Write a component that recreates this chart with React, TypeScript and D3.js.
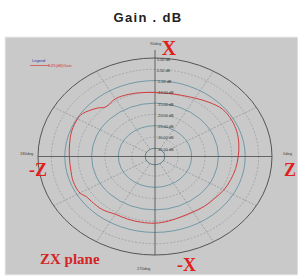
import React from 'react';
import * as d3 from 'd3';

// pattern: angle in degrees, gain in dB
const angles = [0, 10, 20, 30, 40, 50, 60, 70, 80, 90, 100, 110, 120, 130, 135, 145, 150, 160, 170, 180,
  190, 200, 210, 215, 220, 230, 240, 250, 260, 270, 280, 290, 300, 310, 320, 330, 340, 350];
const gains = [-7.6, -6.9, -6.2, -5.8, -5.9, -7.3, -8.8, -9.8, -10.3, -10.3, -9.9, -9.4, -9.1, -10.0, -8.3, -5.6, -5.3, -5.6, -6.3, -6.7,
  -6.7, -6.2, -6.3, -7.5, -7.7, -8.0, -9.1, -9.1, -9.1, -9.1, -9.6, -10.2, -10.3, -9.9, -9.7, -9.0, -8.6, -8.1];

const ringDb = [5, 0, -5, -10, -15, -20, -25, -30, -35];
const ringLabels = ['5.00 dB', '0.00 dB', '-5.00 dB', '-10.00 dB', '-15.00 dB', '-20.00 dB', '-25.00 dB', '-30.00 dB', '-35.00 dB'];
const spokeAngles = [30, 60, 120, 150, 210, 240, 300, 330];

const W = 298, H = 280;
const cx = 155, cy = 156.5, rx = 117, ry = 98.5;

export default function App() {
  const r = d3.scaleLinear().domain([-35, 5]).range([0.084, 1]);
  const px = (a: number, f: number) => cx + rx * f * Math.cos((a * Math.PI) / 180);
  const py = (a: number, f: number) => cy - ry * f * Math.sin((a * Math.PI) / 180);

  const pts: [number, number][] = angles.map((a, i) => [px(a, r(gains[i])), py(a, r(gains[i]))]);
  const trace = d3.line().curve(d3.curveCatmullRomClosed)(pts);

  const ringStyle = (i: number) => {
    if (i === 0) return { stroke: '#555', dash: undefined, w: 1 };
    if (i === ringDb.length - 1) return { stroke: '#4d6f7a', dash: undefined, w: 0.8 };
    return i % 2 === 0
      ? { stroke: '#5b8d9c', dash: undefined, w: 0.8 }
      : { stroke: '#8c9296', dash: '2,1.5', w: 0.6 };
  };

  return (
    <svg width={W} height={H} style={{ position: 'absolute', left: 0, top: 0 }}>
      <rect x={0} y={0} width={W} height={H} fill="#fff" />
      <text x={148} y={22} textAnchor="middle" fontFamily="Liberation Sans, Arial, sans-serif"
        fontWeight="bold" fontSize={13} letterSpacing={1.3} fill="#222">Gain . dB</text>

      <rect x={5} y={37} width={293} height={238} fill="#c9c9c9" stroke="#eee" strokeWidth={1} />

      {spokeAngles.map(a => (
        <line key={a} x1={px(a, r(-35))} y1={py(a, r(-35))} x2={px(a, 1)} y2={py(a, 1)}
          stroke="#7f8588" strokeWidth={0.6} strokeDasharray="2,1.5" />
      ))}

      {ringDb.map((d, i) => {
        const s = ringStyle(i);
        return (
          <ellipse key={d} cx={cx} cy={cy} rx={rx * r(d)} ry={ry * r(d)} fill="none"
            stroke={s.stroke} strokeWidth={s.w} strokeDasharray={s.dash} />
        );
      })}

      <line x1={px(180, 1)} y1={cy} x2={px(0, 1)} y2={cy} stroke="#4a4a4a" strokeWidth={0.8} />
      <line x1={cx} y1={cy - ry - 8} x2={cx} y2={cy + ry} stroke="#4a4a4a" strokeWidth={0.8} />

      <path d={trace ?? ''} fill="none" stroke="#d23c3c" strokeWidth={1} />

      {ringDb.map((d, i) => (
        <text key={d} x={cx + 2} y={cy - ry * r(d) + 2.5} fontSize={3.8}
          fontFamily="Liberation Sans, Arial, sans-serif" fill="#333">{ringLabels[i]}</text>
      ))}

      <g fontFamily="Liberation Sans, Arial, sans-serif" fontSize={4} fill="#444">
        <text x={150} y={45}>90deg</text>
        <text x={283} y={155}>0deg</text>
        <text x={20} y={155}>180deg</text>
        <text x={137} y={270}>270deg</text>
      </g>

      <text x={32} y={62} fontSize={4} fill="#2a3aa8" fontFamily="Liberation Sans, Arial, sans-serif">Legend</text>
      <line x1={30} y1={65.5} x2={48} y2={65.5} stroke="#d23c3c" strokeWidth={0.7} />
      <text x={48} y={67} fontSize={4} fill="#d23c3c" fontFamily="Liberation Sans, Arial, sans-serif">EZX(dB)Gain</text>

      <g fontFamily="Liberation Serif, Times New Roman, serif" fontWeight="bold" fill="#e01e1e">
        <text x={169} y={55} fontSize={20} textAnchor="middle">X</text>
        <text x={29} y={176} fontSize={18}>-Z</text>
        <text x={284} y={176} fontSize={18}>Z</text>
        <text x={177} y={271} fontSize={18}>-X</text>
        <text x={40} y={264} fontSize={15} fill="#d42424">ZX plane</text>
      </g>
    </svg>
  );
}
